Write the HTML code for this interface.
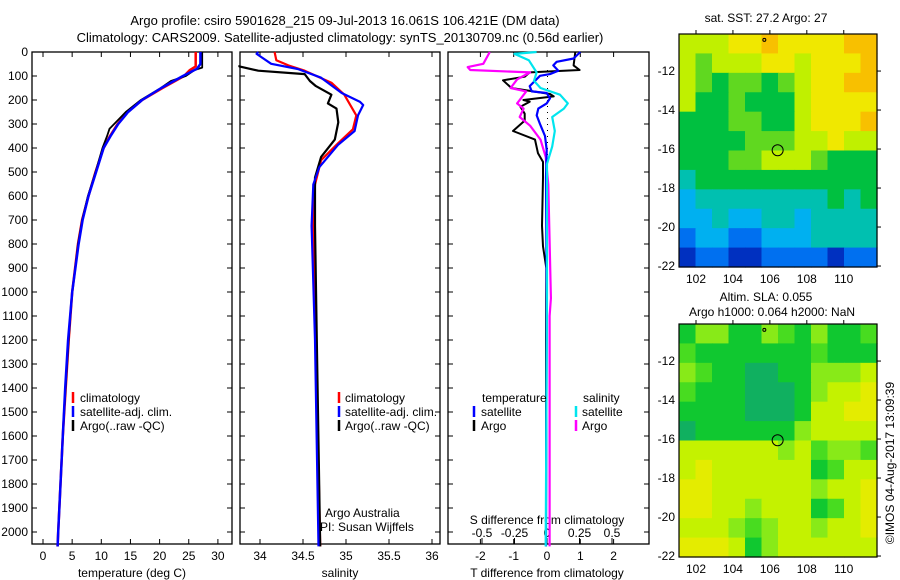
<!DOCTYPE html>
<html><head><meta charset="utf-8"><style>
html,body{margin:0;padding:0;background:#fff;}
svg{display:block;font-family:"Liberation Sans",sans-serif;}
text{font-size:12px;fill:#000;}
</style></head><body>
<svg id="fig" width="900" height="580" viewBox="0 0 900 580">
<text x="345" y="25" text-anchor="middle" style="font-size:13px">Argo profile: csiro 5901628_215 09-Jul-2013 16.061S 106.421E (DM data)</text>
<text x="340" y="42" text-anchor="middle" style="font-size:13px">Climatology: CARS2009. Satellite-adjusted climatology: synTS_20130709.nc (0.56d earlier)</text>
<g id="g"></g>
</svg>
<script>
// ---- data ----
const tempClimDepth=[0,60,75,100,150,200,250,300,350,400,500,600,700,800,1000,1200,1400,1600,1800,2000,2060];
const tempClimVal=[26.2,26.2,25.2,24.2,20.5,17,14.5,12.8,11.5,10.4,9.0,7.8,6.7,6.0,5.0,4.4,3.9,3.4,3.0,2.6,2.5];
const tempSatDepth=[0,50,70,100,150,200,250,300,350,400,500,600,700,800,1000,1200,1400,1600,1800,2000,2060];
const tempSatVal=[27.0,27.0,26.4,24.0,20.3,17,14.6,12.9,11.6,10.4,9.1,7.8,6.8,6.1,5.0,4.3,3.8,3.4,3.0,2.6,2.5];
const tempArgoDepth=[0,65,75,100,120,150,200,250,280,320,350,400,500,600,700,800,1000,1200,1400,1600,1800,2000,2060];
const tempArgoVal=[27.3,27.3,26.0,24.5,22,20.2,16.8,14.2,13.0,11.4,11.0,10.2,9.0,7.7,6.7,6.0,5.0,4.4,3.9,3.4,3.0,2.6,2.5];
const salClimDepth=[0,34,56,78,128,178,264,322,379,451,552,724,1200,2060];
const salClimVal=[34.17,34.19,34.33,34.52,34.83,34.98,35.12,35.08,34.91,34.71,34.64,34.62,34.65,34.7];
const salSatDepth=[0,8,49,71,107,171,207,221,264,329,386,480,552,724,1200,2060];
const salSatVal=[33.98,33.96,34.13,34.44,34.71,34.95,35.16,35.2,35.14,35.1,34.91,34.69,34.62,34.6,34.64,34.68];
const salArgoDepth=[55,60,78,92,121,142,178,214,236,293,365,437,523,724,1200,2060];
const salArgoVal=[33.76,33.76,33.98,34.52,34.58,34.65,34.83,34.79,34.89,34.91,34.87,34.71,34.64,34.64,34.66,34.7];
const tdArgoDepth=[0,56,75,85,103,118,150,175,185,200,207,228,257,286,329,365,422,458,523,724,810,900,1200,2060];
const tdArgoVal=[0.85,0.8,0.98,-0.52,-0.67,-1.32,-1.07,0.09,0.2,-0.71,-0.52,-0.8,-0.67,-0.67,-1.02,-0.36,-0.27,-0.12,-0.12,-0.15,-0.12,-0.02,-0.03,-0.03];
const tdSatDepth=[0,27,41,56,78,92,99,142,164,171,193,214,236,264,300,350,408,523,1026,2060];
const tdSatVal=[1.0,0.8,0.29,0.19,0.34,0.09,-0.21,-0.52,-0.46,-0.01,0.09,-0.01,-0.26,-0.31,-0.21,-0.06,-0.01,-0.03,-0.01,-0.03];
const sdArgoDepth=[0,49,63,75,85,114,150,164,214,236,271,307,365,437,552,1026,1100,2060];
const sdArgoVal=[-0.44,-0.49,-0.61,-0.59,-0.13,-0.23,-0.28,-0.16,-0.23,-0.18,-0.21,-0.13,-0.05,-0.01,0.01,0.03,0.02,0.02];
const sdSatDepth=[0,8,34,85,120,150,178,214,236,271,329,394,466,1026,2060];
const sdSatVal=[-0.08,-0.25,-0.14,-0.08,-0.1,-0.05,0.1,0.16,0.13,0.04,0.06,0.04,0.0,0.0,-0.01];
const depthTicks=[0,100,200,300,400,500,600,700,800,900,1000,1100,1200,1300,1400,1500,1600,1700,1800,1900,2000];
const tempTicks=[0,5,10,15,20,25,30];
const salTicks=[34,34.5,35,35.5,36];
const salTickLabels=["34","34.5","35","35.5","36"];
const tdTicks=[-2,-1,0,1,2];
const sdTicks=[-0.5,-0.25,0,0.25,0.5];
const sdTickLabels=["-0.5","-0.25","0","0.25","0.5"];
const latTicks=[-12,-14,-16,-18,-20,-22];
const lonTicks=[102,104,106,108,110];
const sstGrid=[
[6,6,6,7,7,8,7,7,7,7,8,8],
[6,5,6,6,6,7,7,6,7,7,7,8],
[6,5,4,5,5,4,5,6,7,7,8,8],
[6,4,4,5,4,4,4,6,7,7,7,7],
[4,4,4,5,5,4,4,6,7,7,7,8],
[4,4,4,4,5,5,5,6,6,7,6,6],
[4,4,4,5,5,6,6,6,5,4,4,4],
[3,4,4,4,4,4,4,4,4,4,4,4],
[2,3,3,3,3,3,3,3,3,4,3,4],
[2,2,3,2,2,3,3,2,3,3,3,3],
[1,2,2,1,1,2,2,2,3,3,3,3],
[0,1,1,0,0,1,1,1,1,0,1,1]];
const slaGrid=[
[1,3,3,1,1,3,2,1,3,1,1,2],
[2,1,1,1,1,1,1,1,2,1,1,1],
[3,2,1,1,0,0,1,1,3,3,3,4],
[2,1,1,1,0,0,0,1,3,4,4,5],
[1,1,1,1,0,0,0,1,4,4,5,5],
[0,1,1,1,1,1,1,3,4,4,4,4],
[4,4,4,4,4,4,3,4,2,3,3,2],
[4,5,4,4,4,4,4,4,1,2,4,4],
[5,5,4,4,4,4,4,4,3,4,4,5],
[5,5,4,4,3,4,4,4,1,2,4,5],
[4,4,4,3,2,3,4,4,3,4,4,5],
[5,5,5,4,1,3,4,4,4,4,4,4]];
const sstColors=["#0030c0","#0070f0","#00b0f0","#00c0b0","#00c040","#60d820","#c0f000","#f0e800","#f8c000"];
const slaColors=["#10b060","#10c830","#48dc20","#88ea18","#c4f200","#e4ec00","#f0d400"];
const argoLon=106.421, argoLat=-16.061;

// ---- drawing ----
const NS="http://www.w3.org/2000/svg";
const G=document.getElementById('g');
function mk(tag,attrs,parent){const e=document.createElementNS(NS,tag);for(const k in attrs)e.setAttribute(k,attrs[k]);(parent||G).appendChild(e);return e;}
const yD=d=>52+d*0.24;
const xTemp=t=>43+t*5.83, xSal=s=>260+(s-34)*86, xTd=t=>547+t*33.3, xSd=s=>547+s*130;
const TOP=52,BOT=544;
function box(x0,x1,name){
  const r=mk('rect',{x:x0,y:TOP,width:x1-x0,height:BOT-TOP,fill:'none',stroke:'#000','stroke-width':1.3});
  
  
  depthTicks.forEach(d=>{
    const y=yD(d);
    const a=mk('line',{x1:x0,x2:x0+5,y1:y,y2:y,stroke:'#000'});
    
    
    const b=mk('line',{x1:x1-5,x2:x1,y1:y,y2:y,stroke:'#000'});
    
    
  });
}
function xticks(vals,labels,fx,name,ly,top){
  vals.forEach((v,i)=>{
    const x=fx(v);
    const t=mk('line',{x1:x,x2:x,y1:BOT-5,y2:BOT,stroke:'#000'});
    
    
    if(top){const t2=mk('line',{x1:x,x2:x,y1:TOP,y2:TOP+5,stroke:'#000'});
      
      }
    const tx=mk('text',{x:x,y:ly,'text-anchor':'middle'});tx.textContent=labels[i];
    
    
  });
}
function line(ds,vs,fx,color,w,name){
  const pts=ds.map((d,i)=>fx(vs[i]).toFixed(1)+','+yD(d).toFixed(1)).join(' ');
  const p=mk('polyline',{points:pts,fill:'none',stroke:color,'stroke-width':w,'stroke-linejoin':'round'});
  
  
}
function txt(x,y,s,name,anchor,extra){const t=mk('text',Object.assign({x:x,y:y,'text-anchor':anchor||'start'},extra||{}));t.textContent=s;
  
  return t;}
function legTick(x,y,c){const l=mk('line',{x1:x,x2:x,y1:y-10,y2:y+1,stroke:c,'stroke-width':2.5});
  
  }

// panel 1
box(32,232,'temperature-panel');
depthTicks.forEach(d=>txt(28,yD(d)+4,String(d),'depth-label','end'));
xticks(tempTicks,tempTicks.map(String),xTemp,'temperature-axis',560,true);
txt(132,577,'temperature (deg C)','temperature-axis-title','middle');
line(tempClimDepth,tempClimVal,xTemp,'#ff0000',2.5,'temperature-climatology-line');
line(tempArgoDepth,tempArgoVal,xTemp,'#000000',1.8,'temperature-argo-line');
line(tempSatDepth,tempSatVal,xTemp,'#0000ff',2.5,'temperature-satellite-line');
legTick(73,402,'#ff0000');txt(80,402,'climatology','legend-climatology');
legTick(73,416,'#0000ff');txt(80,416,'satellite-adj. clim.','legend-satellite');
legTick(73,430,'#000000');txt(80,430,'Argo(..raw -QC)','legend-argo');

// panel 2
box(240,440,'salinity-panel');
xticks(salTicks,salTickLabels,xSal,'salinity-axis',560,true);
txt(340,577,'salinity','salinity-axis-title','middle');
line(salClimDepth,salClimVal,xSal,'#ff0000',2.2,'salinity-climatology-line');
line(salArgoDepth,salArgoVal,xSal,'#000000',2.2,'salinity-argo-line');
line(salSatDepth,salSatVal,xSal,'#0000ff',2.2,'salinity-satellite-line');
legTick(339,402,'#ff0000');txt(345,402,'climatology','legend-climatology');
legTick(339,416,'#0000ff');txt(345,416,'satellite-adj. clim.','legend-satellite');
legTick(339,430,'#000000');txt(345,430,'Argo(..raw -QC)','legend-argo');
txt(325,517,'Argo Australia','credit-argo-australia');
txt(320,531,'PI: Susan Wijffels','credit-pi');

// panel 3
box(448,649,'difference-panel');
for(let d=0;d<=2000;d+=25){const y=yD(d);if(d>60&&d<1000){const c=mk('rect',{x:547,y:y,width:1,height:1,fill:'#000'});
  
  }}
xticks(tdTicks,tdTicks.map(String),xTd,'t-difference-axis',560,true);
txt(547,577,'T difference from climatology','t-difference-axis-title','middle');
sdTicks.forEach((v,i)=>{const x=xSd(v);const t=mk('line',{x1:x,x2:x,y1:538,y2:544,stroke:'#000'});
  
  
  txt(x,537,sdTickLabels[i],'s-difference-label','middle');});
txt(547,524,'S difference from climatology','s-difference-axis-title','middle');
line(tdArgoDepth,tdArgoVal,xTd,'#000000',2,'t-difference-argo-line');
line(sdArgoDepth,sdArgoVal,xSd,'#ff00ff',2.2,'s-difference-argo-line');
line(tdSatDepth,tdSatVal,xTd,'#0000ff',2.2,'t-difference-satellite-line');
line(sdSatDepth,sdSatVal,xSd,'#00e5ee',2.2,'s-difference-satellite-line');
txt(482,402,'temperature','legend-temperature-header');
txt(583,402,'salinity','legend-salinity-header');
legTick(474,416,'#0000ff');txt(481,416,'satellite','legend-t-satellite');
legTick(576,416,'#00e5ee');txt(582,416,'satellite','legend-s-satellite');
legTick(474,430,'#000000');txt(481,430,'Argo','legend-t-argo');
legTick(576,430,'#ff00ff');txt(582,430,'Argo','legend-s-argo');

// maps
function map(grid,colors,y0,name,lab1,lab2,ly1,ly2){
  const X0=679,X1=877,Y0=y0,Y1=y0+233;
  const lonMin=101.08,lonMax=111.8,latTop=-10.1,latBot=-22.05;
  const fx=lon=>X0+(lon-lonMin)/(lonMax-lonMin)*(X1-X0);
  const fy=lat=>Y0+(latTop-lat)/(latTop-latBot)*(Y1-Y0);
  const nr=grid.length,nc=grid[0].length;
  grid.forEach((row,r)=>row.forEach((v,c)=>{
    const lo=lonMin+c*(lonMax-lonMin)/nc, la=latTop-r*(latTop-latBot)/nr;
    const x=fx(lo),y=fy(la),w=fx(lo+(lonMax-lonMin)/nc)-x+0.6,h=fy(la-(latTop-latBot)/nr)-y+0.6;
    const cell=mk('rect',{x:x,y:y,width:w,height:h,fill:colors[v]});
    
    
  }));
  const b=mk('rect',{x:X0,y:Y0,width:X1-X0,height:Y1-Y0,fill:'none',stroke:'#000','stroke-width':1.2});
  
  
  latTicks.forEach(l=>{const y=fy(l);
    const t=mk('line',{x1:X1,x2:X1+4,y1:y,y2:y,stroke:'#000'});
    
    
    txt(675,y+4,String(l),name+'-lat-label','end');});
  lonTicks.forEach(l=>{const x=fx(l);
    const t=mk('line',{x1:x,x2:x,y1:Y0-4,y2:Y0,stroke:'#000'});
    
    
    txt(x,Y1+16,String(l),name+'-lon-label','middle');});
  const c=mk('circle',{cx:fx(argoLon),cy:fy(argoLat),r:5.5,fill:'none',stroke:'#000'});
  
  
  const m=mk('circle',{cx:fx(105.7),cy:fy(-10.4),r:1.5,fill:'none',stroke:'#000'});
  
  
  txt(766,ly1,lab1,name+'-title','middle');
  if(lab2)txt(772,ly2,lab2,name+'-subtitle','middle');
}
map(sstGrid,sstColors,34,'sst-map','sat. SST: 27.2 Argo: 27',null,22,0);
map(slaGrid,slaColors,324,'sla-map','Altim. SLA: 0.055','Argo h1000: 0.064 h2000: NaN',301,316);
txt(0,0,'©IMOS 04-Aug-2017 13:09:39','timestamp','middle',{transform:'translate(894,463) rotate(-90)'});
</script>
</body></html>
